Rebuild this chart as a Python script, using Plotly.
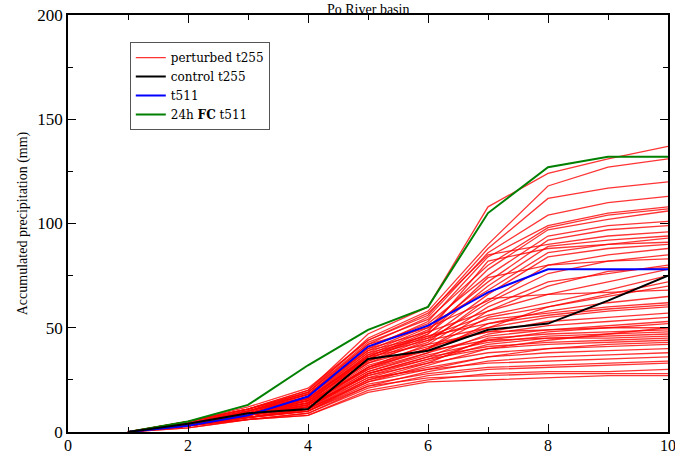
import plotly.graph_objects as go

days = [1, 2, 3, 4, 5, 6, 7, 8, 9, 10]

perturbed = [
    [0, 5, 11, 20, 47, 60, 108, 124, 131, 137],
    [0, 4, 10, 19, 45, 58, 90, 118, 127, 131],
    [0, 5, 12, 21, 44, 56, 88, 112, 117, 120],
    [0, 4, 10, 18, 42, 55, 86, 104, 110, 113],
    [0, 4, 9, 17, 40, 53, 84, 99, 105, 108],
    [0, 5, 11, 19, 43, 54, 80, 98, 104, 107],
    [0, 3, 9, 16, 38, 50, 78, 97, 102, 106],
    [0, 4, 10, 18, 41, 52, 75, 94, 99, 101],
    [0, 4, 9, 15, 37, 49, 72, 92, 97, 99],
    [0, 5, 11, 20, 44, 57, 85, 90, 94, 96],
    [0, 3, 8, 14, 36, 47, 70, 89, 92, 94],
    [0, 4, 10, 17, 39, 51, 68, 86, 90, 93],
    [0, 4, 9, 16, 36, 48, 82, 88, 90, 91],
    [0, 3, 8, 15, 34, 45, 66, 84, 88, 90],
    [0, 5, 11, 19, 42, 50, 63, 80, 85, 88],
    [0, 4, 9, 14, 33, 44, 62, 76, 82, 85],
    [0, 3, 8, 13, 31, 42, 60, 72, 76, 80],
    [0, 4, 10, 18, 40, 48, 58, 66, 72, 78],
    [0, 4, 9, 16, 35, 46, 56, 62, 68, 75],
    [0, 3, 8, 13, 30, 40, 55, 60, 66, 72],
    [0, 4, 9, 15, 34, 43, 64, 66, 67, 68],
    [0, 3, 7, 12, 29, 38, 52, 58, 62, 65],
    [0, 4, 10, 17, 38, 45, 54, 57, 60, 62],
    [0, 3, 8, 14, 32, 40, 50, 55, 58, 60],
    [0, 4, 9, 15, 33, 41, 48, 53, 55, 57],
    [0, 3, 7, 11, 28, 36, 47, 51, 53, 55],
    [0, 4, 9, 14, 30, 38, 46, 49, 51, 53],
    [0, 3, 8, 12, 27, 35, 44, 48, 50, 52],
    [0, 5, 10, 16, 36, 42, 48, 49, 50, 50],
    [0, 3, 7, 10, 25, 33, 45, 47, 48, 49],
    [0, 4, 8, 13, 29, 37, 43, 46, 47, 48],
    [0, 3, 7, 11, 26, 34, 42, 45, 46, 47],
    [0, 4, 9, 14, 31, 39, 44, 45, 45, 46],
    [0, 3, 8, 12, 28, 36, 41, 43, 44, 45],
    [0, 3, 7, 10, 24, 32, 40, 42, 43, 44],
    [0, 4, 8, 13, 27, 33, 38, 40, 41, 42],
    [0, 3, 7, 11, 25, 31, 36, 38, 39, 40],
    [0, 3, 6, 9, 22, 29, 34, 36, 37, 38],
    [0, 4, 8, 12, 26, 30, 33, 34, 35, 36],
    [0, 3, 7, 10, 23, 28, 31, 32, 33, 34],
    [0, 3, 6, 9, 21, 27, 30, 31, 32, 33],
    [0, 2, 6, 8, 20, 25, 28, 29, 29, 30],
    [0, 3, 7, 10, 22, 26, 27, 28, 28, 28],
    [0, 2, 6, 8, 19, 24, 25, 26, 27, 27],
    [0, 4, 9, 15, 35, 47, 74, 80, 82, 83],
    [0, 3, 8, 13, 31, 40, 58, 70, 77, 79],
    [0, 4, 10, 16, 37, 44, 50, 60, 65, 70],
    [0, 3, 8, 12, 28, 35, 40, 44, 47, 50],
    [0, 5, 11, 18, 39, 46, 52, 56, 59, 61],
    [0, 3, 7, 11, 24, 30, 36, 40, 42, 43],
]
control_t255 = [0, 4, 9, 11, 35, 39, 49, 52, 63, 75]
t511 = [0, 3, 8, 17, 41, 51, 67, 78, 78, 78]
fc24_t511 = [0, 5, 13, 32, 49, 60, 105, 127, 132, 132]

FONT = "Liberation Serif"
LEG_FONT = "DejaVu Serif"

fig = go.Figure()
for i, member in enumerate(perturbed):
    fig.add_trace(go.Scatter(
        x=days, y=member, mode="lines",
        line=dict(color="rgba(255,0,0,0.8)", width=1.3),
        name="perturbed t255", legendgroup="pert",
        showlegend=(i == 0), legendrank=1, hoverinfo="skip"))

fig.add_trace(go.Scatter(x=days, y=fc24_t511, mode="lines",
                         line=dict(color="#008000", width=2),
                         name="24h <b>FC</b> t511", legendrank=4))
fig.add_trace(go.Scatter(x=days, y=t511, mode="lines",
                         line=dict(color="#0000ff", width=2),
                         name="t511", legendrank=3))
fig.add_trace(go.Scatter(x=days, y=control_t255, mode="lines",
                         line=dict(color="#000000", width=2),
                         name="control t255", legendrank=2))

axis_common = dict(
    showgrid=False, zeroline=False, showline=True, linecolor="black",
    linewidth=1.5, mirror="ticks", ticks="inside", ticklen=8,
    tickwidth=1.2, tickcolor="black", automargin=False,
    ticklabeloverflow="allow",
)

fig.update_xaxes(range=[0, 10], tick0=0, dtick=2,
                 minor=dict(dtick=1, ticks="inside", ticklen=5,
                            tickcolor="black", tickwidth=1.2),
                 tickfont=dict(family=FONT, size=16, color="black"),
                 ticklabelstandoff=-2,
                 **axis_common)
fig.update_yaxes(range=[0, 200], tick0=0, dtick=50,
                 minor=dict(dtick=25, ticks="inside", ticklen=5,
                            tickcolor="black", tickwidth=1.2),
                 tickfont=dict(family=FONT, size=17, color="black"),
                 title=dict(text="Accumulated precipitation (mm)",
                            font=dict(family=FONT, size=14, color="black"),
                            standoff=6),
                 **axis_common)

fig.update_layout(
    width=675, height=455,
    margin=dict(l=68, r=7, t=15, b=23),
    paper_bgcolor="white", plot_bgcolor="white",
    showlegend=True,
    legend=dict(x=0.103, y=0.935, xanchor="left", yanchor="top",
                bgcolor="white", bordercolor="#555555", borderwidth=1,
                font=dict(family=LEG_FONT, size=12, color="black"),
                tracegroupgap=0, itemwidth=30, traceorder="normal"),
    annotations=[dict(text="Po River basin", xref="paper", yref="paper",
                      x=0.5, y=1, xanchor="center", yanchor="top",
                      yshift=15, showarrow=False,
                      font=dict(family=FONT, size=14, color="black"))],
)

fig.write_html("out.html",
               config={"displayModeBar": False},
               post_script="document.body.style.margin='0';"
                           "document.body.style.overflow='hidden';")
